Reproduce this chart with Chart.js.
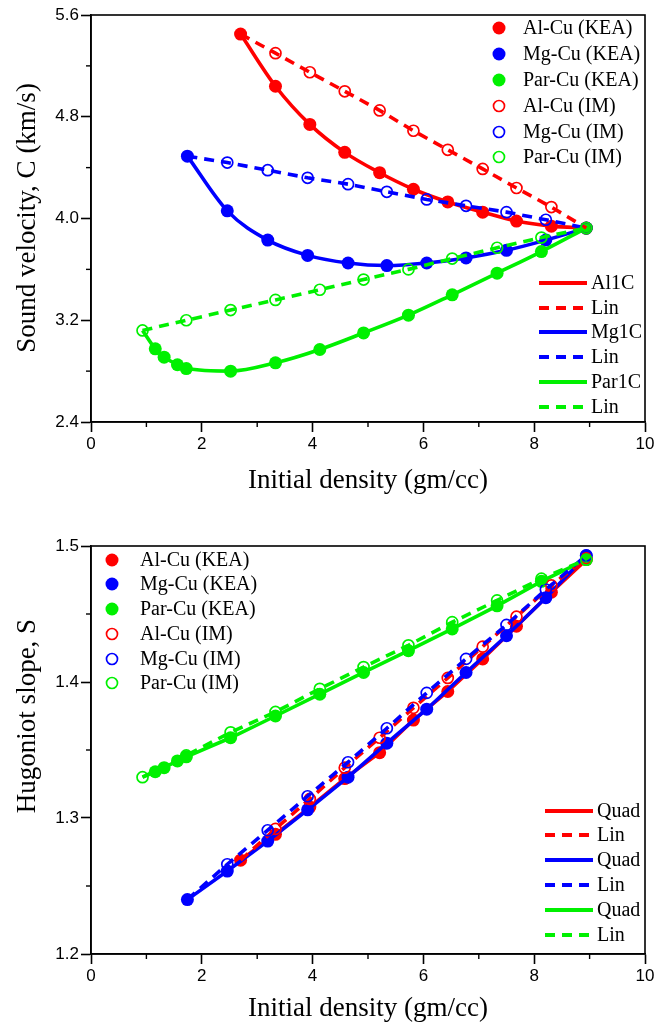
<!DOCTYPE html>
<html><head><meta charset="utf-8">
<script src="https://cdn.jsdelivr.net/npm/chart.js@4.4.1/dist/chart.umd.min.js"></script>
<style>
html,body{margin:0;padding:0;background:#fff;}
#wrap{position:relative;width:654px;height:1028px;overflow:hidden;background:#fff;}
canvas{position:absolute;left:0;display:block;}
#c1{top:0;}
#c2{top:510px;}
</style></head><body>
<div id="wrap">
<canvas id="c1" width="654" height="510" style="width:654px;height:510px"></canvas>
<canvas id="c2" width="654" height="518" style="width:654px;height:518px"></canvas>
</div>
<script>
// ---------- data ----------
const alDensity = [2.70, 3.33, 3.95, 4.58, 5.21, 5.82, 6.44, 7.07, 7.68, 8.31, 8.94];
const mgDensity = [1.74, 2.46, 3.19, 3.91, 4.64, 5.34, 6.06, 6.77, 7.50, 8.21, 8.94];
const parDensityKEA = [0.93, 1.16, 1.32, 1.56, 1.72, 2.52, 3.33, 4.13, 4.92, 5.73, 6.52, 7.33, 8.13, 8.94];
const parDensityIM = [0.93, 1.72, 2.52, 3.33, 4.13, 4.92, 5.73, 6.52, 7.33, 8.13, 8.94];

// Sound velocity C (km/s)
const alC_KEA  = [5.45, 5.04, 4.74, 4.52, 4.36, 4.23, 4.13, 4.05, 3.98, 3.94, 3.925];
const alC_IM   = [5.45, 5.30, 5.15, 5.00, 4.85, 4.69, 4.54, 4.39, 4.24, 4.09, 3.925];
const mgC_KEA  = [4.49, 4.06, 3.83, 3.71, 3.65, 3.63, 3.65, 3.69, 3.75, 3.83, 3.925];
const mgC_IM   = [4.49, 4.44, 4.38, 4.32, 4.27, 4.21, 4.15, 4.10, 4.05, 3.99, 3.925];
const parC_KEA = [3.12, 2.975, 2.91, 2.85, 2.82, 2.80, 2.865, 2.97, 3.10, 3.24, 3.40, 3.57, 3.74, 3.925];
const parC_IM  = [3.12, 3.20, 3.28, 3.36, 3.44, 3.52, 3.60, 3.685, 3.77, 3.85, 3.925];

// Hugoniot slope S
const alS_KEA  = [1.269, 1.288, 1.308, 1.329, 1.348, 1.372, 1.393, 1.417, 1.441, 1.466, 1.490];
const alS_IM   = [1.269, 1.292, 1.314, 1.337, 1.359, 1.381, 1.403, 1.426, 1.448, 1.471, 1.491];
const mgS_KEA  = [1.240, 1.261, 1.283, 1.306, 1.330, 1.355, 1.380, 1.407, 1.434, 1.462, 1.493];
const mgS_IM   = [1.240, 1.266, 1.291, 1.316, 1.341, 1.366, 1.392, 1.417, 1.442, 1.468, 1.493];
const parS_KEA = [1.330, 1.334, 1.337, 1.342, 1.345, 1.359, 1.375, 1.391, 1.407, 1.423, 1.439, 1.456, 1.474, 1.490];
const parS_IM  = [1.330, 1.346, 1.363, 1.378, 1.395, 1.411, 1.427, 1.444, 1.460, 1.476, 1.490];

// ticks
const xTicks = [0, 2, 4, 6, 8, 10];
const xMinorTicks = [1, 3, 5, 7, 9];
const yTicksC = [2.4, 3.2, 4.0, 4.8, 5.6];
const yMinorC = [2.8, 3.6, 4.4, 5.2];
const yTicksS = [1.2, 1.3, 1.4, 1.5];
const yMinorS = [1.25, 1.35, 1.45];

// labels
const pointLabels = ['Al-Cu (KEA)', 'Mg-Cu (KEA)', 'Par-Cu (KEA)', 'Al-Cu (IM)', 'Mg-Cu (IM)', 'Par-Cu (IM)'];
const lineLabelsC = ['Al1C', 'Lin', 'Mg1C', 'Lin', 'Par1C', 'Lin'];
const lineLabelsS = ['Quad', 'Lin', 'Quad', 'Lin', 'Quad', 'Lin'];
const xTitle = 'Initial density (gm/cc)';
const yTitleC = 'Sound velocity, C (km/s)';
const yTitleS = 'Hugoniot slope, S';

// ---------- styles ----------
const RED = '#ff0000', BLUE = '#0000ff', GREEN = '#00f000';
const COLORS = [RED, BLUE, GREEN];
const SERIF = '"Liberation Serif", "Times New Roman", serif';
const SANS = '"Liberation Sans", Arial, sans-serif';
const DASH = [10, 7];

function pts(xs, ys) { return xs.map((x, i) => ({x: x, y: ys[i]})); }

function filledSet(label, xs, ys, color, order, smooth, hideFirst) {
  return {
    label, data: pts(xs, ys), showLine: true, order,
    borderColor: color, backgroundColor: color, borderWidth: 3.6,
    cubicInterpolationMode: smooth ? 'monotone' : 'default', tension: 0,
    pointRadius: hideFirst ? (c => c.dataIndex === 0 ? 0 : 6.5) : 6.5,
    pointBackgroundColor: color, pointBorderColor: color, pointBorderWidth: 0,
    pointStyle: 'circle'
  };
}
function openSet(label, xs, ys, color, order, hideFirst) {
  return {
    label, data: pts(xs, ys), showLine: true, order,
    borderColor: color, backgroundColor: 'rgba(0,0,0,0)', borderWidth: 3.6, borderDash: DASH,
    tension: 0,
    pointRadius: hideFirst ? (c => c.dataIndex === 0 ? 0 : 5.5) : 5.5,
    pointBackgroundColor: 'rgba(0,0,0,0)', pointBorderColor: color, pointBorderWidth: 1.7,
    pointStyle: 'circle'
  };
}

const overlay = {
  id: 'overlay',
  afterDraw(chart, args, o) {
    const ctx = chart.ctx, a = chart.chartArea, sx = chart.scales.x, sy = chart.scales.y;
    ctx.save();
    ctx.strokeStyle = '#000'; ctx.lineWidth = 1.6; ctx.setLineDash([]);
    ctx.strokeRect(a.left, a.top, a.right - a.left, a.bottom - a.top);
    ctx.lineWidth = 1.4;
    o.xMinor.forEach(v => { const p = sx.getPixelForValue(v); ctx.beginPath(); ctx.moveTo(p, a.bottom); ctx.lineTo(p, a.bottom + 5); ctx.stroke(); });
    o.yMinor.forEach(v => { const p = sy.getPixelForValue(v); ctx.beginPath(); ctx.moveTo(a.left, p); ctx.lineTo(a.left - 5, p); ctx.stroke(); });
    // axis titles
    ctx.fillStyle = '#000'; ctx.textAlign = 'center'; ctx.textBaseline = 'middle';
    ctx.font = '27px ' + SERIF;
    ctx.fillText(o.xTitle, (a.left + a.right) / 2, o.xTitleY);
    ctx.save(); ctx.translate(o.yTitleX, o.yTitleY); ctx.rotate(-Math.PI / 2); ctx.fillText(o.yTitle, 0, 0); ctx.restore();
    // points legend
    ctx.font = '20px ' + SERIF; ctx.textAlign = 'left';
    const P = o.pLeg;
    P.labels.forEach((t, i) => {
      const y = P.rows[i], col = COLORS[i % 3];
      ctx.beginPath(); ctx.setLineDash([]);
      if (i < 3) { ctx.fillStyle = col; ctx.arc(P.mx, y, 6.5, 0, Math.PI * 2); ctx.fill(); }
      else { ctx.strokeStyle = col; ctx.lineWidth = 1.7; ctx.arc(P.mx, y, 5.5, 0, Math.PI * 2); ctx.stroke(); }
      ctx.fillStyle = '#000'; ctx.fillText(t, P.tx, y + 1);
    });
    // lines legend
    const L = o.lLeg;
    L.labels.forEach((t, i) => {
      const y = L.rows[i], col = COLORS[Math.floor(i / 2)], dashed = i % 2 === 1;
      ctx.strokeStyle = col; ctx.lineWidth = 4; ctx.lineCap = 'butt';
      ctx.setLineDash(dashed ? DASH : []);
      ctx.beginPath(); ctx.moveTo(L.x0, y); ctx.lineTo(dashed ? L.x0 + 44 : L.x1, y); ctx.stroke();
      ctx.setLineDash([]);
      ctx.fillStyle = '#000'; ctx.fillText(t, L.tx, y + 1);
    });
    ctx.restore();
  }
};

function axes(xMin, xMax, yMin, yMax, yT, yDec, xHeight) {
  const tickFont = {family: SANS, size: 17};
  const grid = {display: true, drawOnChartArea: false, drawTicks: true, tickLength: 10, tickColor: '#000', tickWidth: 1.6};
  return {
    x: {
      type: 'linear', min: xMin, max: xMax, position: 'bottom',
      grid: grid, border: {display: true, color: '#000', width: 1.6},
      afterBuildTicks: s => { s.ticks = xTicks.map(v => ({value: v})); },
      ticks: {font: tickFont, color: '#000', padding: 2, maxRotation: 0, autoSkip: false, callback: v => String(v)},
      afterFit: s => { s.height = xHeight; s.paddingLeft = 0; s.paddingRight = 0; }
    },
    y: {
      type: 'linear', min: yMin, max: yMax, position: 'left',
      grid: grid, border: {display: true, color: '#000', width: 1.6},
      afterBuildTicks: s => { s.ticks = yT.map(v => ({value: v})); },
      ticks: {font: tickFont, color: '#000', padding: 2, autoSkip: false, callback: v => Number(v).toFixed(yDec)},
      afterFit: s => { s.width = 91; s.paddingTop = 0; s.paddingBottom = 0; }
    }
  };
}

const common = {
  responsive: false, animation: false, devicePixelRatio: 1,
  plugins: {legend: {display: false}, tooltip: {enabled: false}},
};

// ---------- top chart ----------
new Chart(document.getElementById('c1'), {
  type: 'scatter',
  data: {datasets: [
    filledSet('Al-Cu (KEA)', alDensity, alC_KEA, RED, 6, true, false),
    filledSet('Mg-Cu (KEA)', mgDensity, mgC_KEA, BLUE, 5, true, false),
    filledSet('Par-Cu (KEA)', parDensityKEA, parC_KEA, GREEN, 4, true, true),
    openSet('Al-Cu (IM)', alDensity, alC_IM, RED, 3, true),
    openSet('Mg-Cu (IM)', mgDensity, mgC_IM, BLUE, 2, true),
    openSet('Par-Cu (IM)', parDensityIM, parC_IM, GREEN, 1, false)
  ]},
  options: Object.assign({}, common, {
    layout: {padding: {left: 0, right: 9, top: 15, bottom: 8}},
    scales: axes(0, 10, 2.4, 5.6, yTicksC, 1, 80),
    plugins: Object.assign({}, common.plugins, {
      overlay: {
        xMinor: xMinorTicks, yMinor: yMinorC,
        xTitle: xTitle, xTitleY: 481, yTitle: yTitleC, yTitleX: 28, yTitleY: 218,
        pLeg: {labels: pointLabels, mx: 499, tx: 523, rows: [28, 54, 80, 106, 132, 157]},
        lLeg: {labels: lineLabelsC, x0: 539, x1: 587, tx: 591, rows: [283, 308, 332, 357, 382, 407]}
      }
    })
  }),
  plugins: [overlay]
});

// ---------- bottom chart ----------
new Chart(document.getElementById('c2'), {
  type: 'scatter',
  data: {datasets: [
    filledSet('Al-Cu (KEA)', alDensity, alS_KEA, RED, 6, false, false),
    filledSet('Mg-Cu (KEA)', mgDensity, mgS_KEA, BLUE, 5, false, false),
    filledSet('Par-Cu (KEA)', parDensityKEA, parS_KEA, GREEN, 4, false, true),
    openSet('Al-Cu (IM)', alDensity, alS_IM, RED, 3, true),
    openSet('Mg-Cu (IM)', mgDensity, mgS_IM, BLUE, 2, true),
    openSet('Par-Cu (IM)', parDensityIM, parS_IM, GREEN, 1, false)
  ]},
  options: Object.assign({}, common, {
    layout: {padding: {left: 0, right: 9, top: 36, bottom: 4}},
    scales: axes(0, 10, 1.2, 1.5, yTicksS, 1, 70),
    plugins: Object.assign({}, common.plugins, {
      overlay: {
        xMinor: xMinorTicks, yMinor: yMinorS,
        xTitle: xTitle, xTitleY: 499, yTitle: yTitleS, yTitleX: 28, yTitleY: 206,
        pLeg: {labels: pointLabels, mx: 112, tx: 140, rows: [50, 74, 99, 124, 149, 173]},
        lLeg: {labels: lineLabelsS, x0: 545, x1: 593, tx: 597, rows: [301, 325, 350, 375, 400, 425]}
      }
    })
  }),
  plugins: [overlay]
});
</script>
</body></html>
